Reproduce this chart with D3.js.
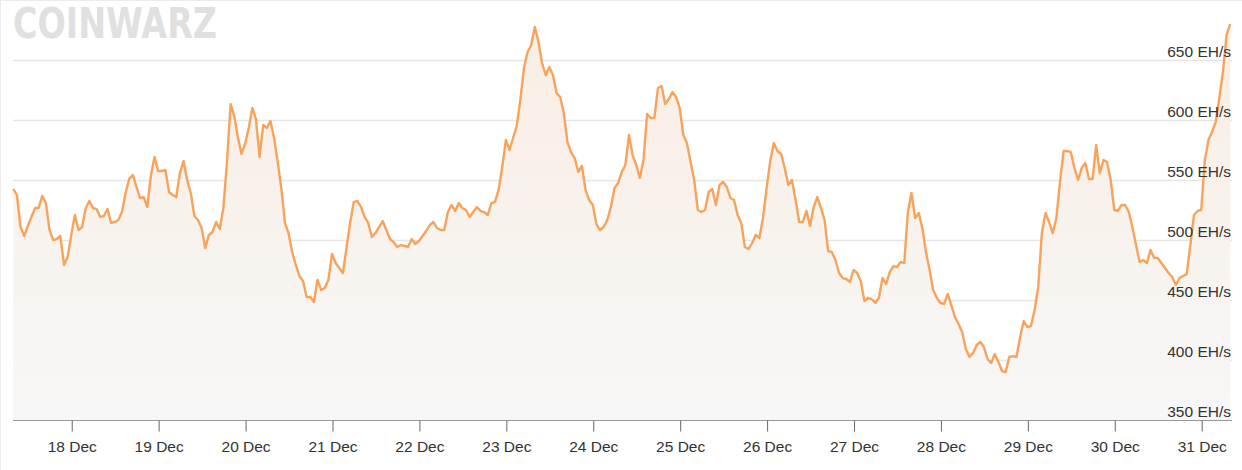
<!DOCTYPE html>
<html>
<head>
<meta charset="utf-8">
<script src="https://cdn.jsdelivr.net/npm/d3@7"></script>
<style>
  html, body { margin: 0; padding: 0; background: #fff; }
  svg { display: block; font-family: "Liberation Sans", Arial, sans-serif; }
</style>
</head>
<body>
<svg id="canvas" width="1242" height="470"></svg>
<script>
// hourly network hashrate, EH/s, first sample 17 Dec 07:52 UTC
const startTime = Date.UTC(2023, 11, 17, 7, 52);
const hashrate = [
  542.5, 537.5, 510.8, 503.3, 511.7, 519.2, 526.7, 526.7, 536.7, 530.8,
  508.3, 500.0, 500.8, 503.3, 479.2, 485.8, 504.2, 520.8, 508.3, 510.8,
  526.7, 532.5, 526.7, 525.8, 519.2, 520.0, 525.8, 514.2, 515.0, 516.7,
  523.3, 539.2, 550.8, 554.2, 544.2, 535.0, 535.8, 527.5, 554.2, 569.2,
  557.5, 557.5, 558.3, 540.0, 537.5, 535.8, 555.8, 565.8, 550.0, 539.2,
  520.0, 516.7, 510.0, 493.3, 504.2, 506.7, 515.0, 509.2, 526.7, 565.0,
  613.3, 603.3, 585.8, 571.7, 580.0, 593.3, 610.0, 600.8, 569.2, 595.8,
  593.3, 599.2, 585.0, 565.0, 543.3, 514.2, 505.8, 490.0, 479.2, 470.0,
  465.8, 452.5, 452.5, 448.3, 466.7, 458.3, 460.0, 466.7, 488.3, 480.8,
  476.7, 472.5, 493.3, 514.2, 531.7, 532.5, 527.5, 519.2, 514.2, 502.5,
  505.8, 510.8, 515.8, 508.3, 500.8, 498.3, 494.2, 495.8, 495.0, 494.2,
  500.8, 496.7, 499.2, 503.3, 507.5, 512.5, 515.0, 510.0, 508.3, 508.3,
  523.3, 529.2, 524.2, 530.8, 526.7, 525.0, 519.2, 523.3, 527.5, 524.2,
  523.3, 520.8, 530.8, 531.7, 541.7, 560.8, 583.3, 575.0, 585.0, 595.0,
  616.7, 643.3, 656.7, 662.5, 677.5, 665.0, 647.5, 637.5, 644.2, 637.5,
  622.5, 619.2, 605.8, 581.7, 573.3, 568.3, 556.7, 561.7, 541.7, 533.3,
  529.2, 513.3, 508.3, 510.8, 516.7, 527.5, 543.3, 547.5, 556.7, 562.5,
  587.5, 570.8, 562.5, 551.7, 566.7, 605.0, 601.7, 601.7, 626.7, 628.3,
  613.3, 617.5, 623.3, 619.2, 610.0, 587.5, 580.8, 565.0, 550.0, 525.0,
  523.3, 525.0, 540.0, 542.5, 529.2, 545.8, 548.3, 544.2, 535.0, 533.3,
  520.8, 514.2, 494.2, 492.5, 497.5, 504.2, 501.7, 518.3, 543.3, 565.8,
  580.8, 574.2, 571.7, 560.0, 545.8, 550.0, 533.3, 515.0, 515.0, 524.2,
  511.7, 527.5, 535.8, 526.7, 516.7, 490.8, 490.0, 483.3, 472.5, 468.3,
  467.5, 465.0, 475.0, 472.5, 465.8, 449.2, 451.7, 450.8, 447.5, 451.7,
  468.3, 463.3, 473.3, 478.3, 477.5, 481.7, 480.8, 523.3, 539.2, 518.3,
  522.5, 510.0, 490.0, 475.0, 458.3, 451.7, 447.5, 446.7, 455.0, 445.8,
  435.8, 430.0, 423.3, 409.2, 402.5, 405.8, 412.5, 415.0, 410.8, 400.8,
  397.5, 405.0, 398.3, 390.8, 390.0, 402.5, 403.3, 402.5, 419.2, 432.5,
  427.5, 428.3, 441.7, 460.8, 505.8, 522.5, 515.0, 505.8, 518.3, 548.3,
  574.2, 574.2, 573.3, 560.0, 550.0, 560.0, 564.2, 550.8, 550.8, 579.2,
  555.8, 566.7, 565.0, 550.0, 525.0, 524.2, 529.2, 529.2, 523.3, 510.8,
  495.8, 481.7, 483.3, 480.8, 491.7, 485.0, 485.0, 480.8, 476.7, 472.5,
  469.2, 462.5, 468.3, 470.0, 471.7, 495.8, 520.8, 524.2, 525.0, 566.7,
  583.3, 590.0, 598.3, 618.3, 640.0, 670.8, 680.0
];
const yTicks = [350, 400, 450, 500, 550, 600, 650];
const unit = "EH/s";
const xStart = Date.UTC(2023, 11, 17, 7, 47);
const xEnd = Date.UTC(2023, 11, 31, 8, 22);

const svg = d3.select("#canvas");
const plotLeft = 13, plotRight = 1232, plotTop = 0, plotBottom = 420;

const data = hashrate.map((v, i) => ({ t: new Date(startTime + i * 3600000), v }));

const x = d3.scaleUtc().domain([new Date(xStart), new Date(xEnd)]).range([plotLeft, plotRight]);
const y = d3.scaleLinear().domain([350, 700]).range([plotBottom, plotTop]);

// container border (top and left)
svg.append("line").attr("x1", 0).attr("x2", 1242).attr("y1", 0.5).attr("y2", 0.5)
    .attr("stroke", "#ececec");
svg.append("line").attr("x1", 0.5).attr("x2", 0.5).attr("y1", 0).attr("y2", 470)
    .attr("stroke", "#ececec");

// watermark logo
svg.append("text")
    .attr("x", 13).attr("y", 38)
    .attr("textLength", 204).attr("lengthAdjust", "spacingAndGlyphs")
    .attr("font-family", "DejaVu Sans")
    .attr("font-weight", "bold")
    .attr("font-size", 42)
    .attr("fill", "#e0e0e0")
    .text("COINWARZ");

// gridlines
svg.append("g").selectAll("line")
    .data(yTicks.filter(d => d > 350))
    .enter().append("line")
    .attr("x1", plotLeft).attr("x2", plotRight)
    .attr("y1", d => Math.round(y(d)) + 0.5).attr("y2", d => Math.round(y(d)) + 0.5)
    .attr("stroke", "#e6e6e6").attr("stroke-width", 1.5);

// area gradient
const defs = svg.append("defs");
const grad = defs.append("linearGradient").attr("id", "fillGrad")
    .attr("gradientUnits", "userSpaceOnUse")
    .attr("x1", 0).attr("x2", 0).attr("y1", plotTop).attr("y2", plotBottom);
grad.append("stop").attr("offset", 0).attr("stop-color", "#f9ede2");
grad.append("stop").attr("offset", 1).attr("stop-color", "#f7f7f7");

svg.append("path")
    .datum(data)
    .attr("fill", "url(#fillGrad)")
    .attr("d", d3.area().x(d => x(d.t)).y0(plotBottom).y1(d => y(d.v)));

svg.append("path")
    .datum(data)
    .attr("fill", "none")
    .attr("stroke", "#f7a35c")
    .attr("stroke-width", 2.4)
    .attr("stroke-linejoin", "round")
    .attr("d", d3.line().x(d => x(d.t)).y(d => y(d.v)));

// y labels, inside plot on the right
svg.append("g").selectAll("text")
    .data(yTicks)
    .enter().append("text")
    .attr("x", 1231)
    .attr("y", d => y(d) - 3)
    .attr("text-anchor", "end")
    .attr("font-size", 15.5)
    .attr("fill", "#333")
    .text(d => d + " " + unit);

// x axis
const xAxis = svg.append("g")
    .attr("transform", `translate(0,${plotBottom + 0.5})`)
    .call(d3.axisBottom(x)
        .ticks(d3.utcDay.every(1))
        .tickFormat(d3.utcFormat("%-d %b"))
        .tickSize(11)
        .tickSizeOuter(0)
        .tickPadding(9));
xAxis.select(".domain").attr("stroke", "#999").attr("d", `M${plotLeft},0H${plotRight}`);
xAxis.selectAll(".tick line").attr("stroke", "#666");
xAxis.selectAll(".tick text")
    .attr("font-size", 15.5)
    .attr("font-family", "Liberation Sans, Arial, sans-serif")
    .attr("fill", "#333");
xAxis.selectAll(".tick").filter(d => x(d) < plotLeft || x(d) > plotRight).remove();
</script>
</body>
</html>
